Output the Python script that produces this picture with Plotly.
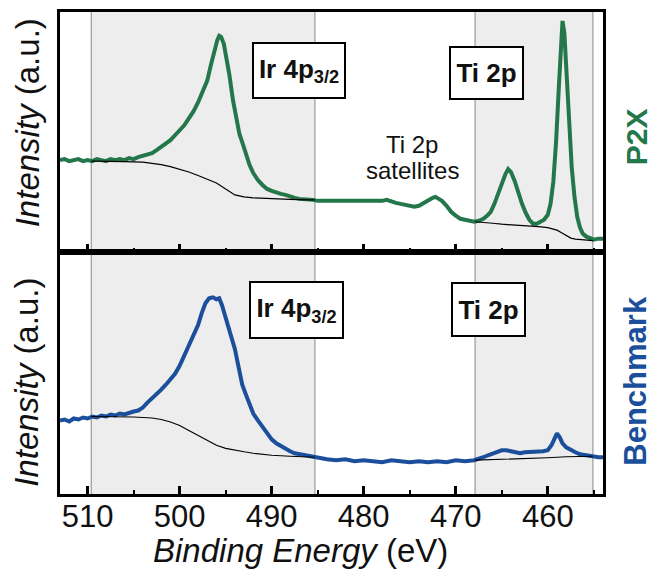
import plotly.graph_objects as go

# ---------------- XPS data (binding energy in eV, intensity in a.u.) ----------------
# P2X sample
be_p2x = [513.0, 512.5, 512.0, 511.5, 511.0, 510.5, 510.0, 509.5, 509.0, 508.5, 508.0, 507.5,
          507.0, 506.5, 506.0, 505.5, 505.0, 504.5, 504.0, 503.5, 503.0, 502.5, 502.0, 501.5,
          501.0, 500.5, 500.0, 499.5, 499.0, 498.5, 498.0, 497.5, 497.0, 496.6, 496.2, 495.9,
          495.7, 495.5, 495.2, 494.9, 494.6, 494.2, 493.8, 493.5, 493.2, 492.8, 492.4, 492.0,
          491.5, 491.0, 490.5, 490.0, 489.5, 489.0, 488.5, 488.0, 487.5, 487.0, 486.5, 486.0,
          485.5, 485.0, 484.0, 483.0, 482.0, 481.0, 480.0, 479.0, 478.0, 477.5, 477.0, 476.5,
          476.0, 475.5, 475.0, 474.5, 474.0, 473.5, 473.0, 472.5, 472.2, 471.8, 471.5, 471.0,
          470.5, 470.0, 469.5, 469.0, 468.5, 468.0, 467.5, 467.0, 466.6, 466.2, 465.8, 465.4,
          465.0, 464.6, 464.3, 464.0, 463.6, 463.2, 462.8, 462.4, 462.0, 461.6, 461.2, 460.8,
          460.4, 460.0, 459.7, 459.4, 459.1, 458.8, 458.6, 458.4, 458.2, 458.0, 457.8, 457.6,
          457.4, 457.1, 456.8, 456.5, 456.2, 455.8, 455.4, 455.0, 454.5, 454.0]
int_p2x = [92, 93, 91, 92, 93, 91, 92, 91, 93, 92, 91, 93,
           92, 93, 92, 94, 93, 95, 96, 97, 99, 102, 105, 108,
           112, 117, 122, 127, 134, 141, 150, 160, 172, 188, 203, 213,
           217, 216, 209, 195, 178, 152, 130, 118, 110, 97, 87, 79,
           72, 67, 63, 61, 59, 58, 57, 55, 54, 53, 53, 52,
           52, 51, 51, 50, 51, 50, 50, 51, 51, 52, 50, 49,
           48, 47, 46, 45, 46, 49, 52, 54, 55, 53, 51, 46,
           40, 36, 33, 32, 31, 30, 31, 33, 36, 40, 48, 58,
           69, 78, 83, 80, 71, 59, 48, 39, 32, 28, 28, 30,
           32, 37, 48, 70, 110, 165, 205, 232, 220, 185, 145, 115,
           85, 55, 35, 24, 18, 15, 13, 12, 13, 13]

# P2X Shirley backgrounds
be_p2x_bg_ir = [509.6, 508.0, 506.0, 504.0, 503.0, 502.0, 501.0, 500.0, 499.0, 498.0, 497.0,
                496.0, 495.0, 494.5, 494.0, 493.5, 493.0, 492.0, 491.0, 490.0, 488.0, 486.0, 485.3]
int_p2x_bg_ir = [91, 91, 90.5, 90, 89, 87.5, 85.5, 83, 80, 76.5, 73,
                 69, 63, 60, 57, 56, 55, 54, 53.5, 53, 52.5, 52, 52]
be_p2x_bg_ti = [467.9, 467.0, 466.0, 465.0, 464.0, 463.0, 462.0, 461.0, 460.0, 459.5, 459.0,
                458.5, 458.0, 457.5, 457.0, 456.0, 455.1]
int_p2x_bg_ti = [30, 29.5, 28.5, 27.5, 27, 26, 25.5, 25, 24, 23, 21.5,
                 19, 16, 13.5, 12.5, 11.5, 11]

# Benchmark sample
be_bm = [513.0, 512.5, 512.0, 511.5, 511.0, 510.5, 510.0, 509.5, 509.0, 508.5, 508.0, 507.5,
         507.0, 506.5, 506.0, 505.5, 505.0, 504.5, 504.0, 503.5, 503.0, 502.5, 502.0, 501.5,
         501.0, 500.5, 500.0, 499.5, 499.0, 498.5, 498.0, 497.6, 497.2, 496.8, 496.4, 496.0,
         495.7, 495.4, 495.1, 494.8, 494.4, 494.0, 493.6, 493.2, 492.8, 492.4, 492.0, 491.5,
         491.0, 490.5, 490.0, 489.5, 489.0, 488.5, 488.0, 487.5, 487.0, 486.5, 486.0, 485.5,
         485.0, 484.0, 483.0, 482.0, 481.0, 480.0, 479.0, 478.0, 477.0, 476.0, 475.0, 474.0,
         473.0, 472.0, 471.0, 470.0, 469.0, 468.0, 467.5, 467.0, 466.5, 466.0, 465.5, 465.0,
         464.5, 464.0, 463.5, 463.0, 462.5, 462.0, 461.5, 461.0, 460.5, 460.0, 459.6, 459.3,
         459.0, 458.7, 458.4, 458.0, 457.5, 457.0, 456.5, 456.0, 455.5, 455.0, 454.5, 454.0]
int_bm = [74, 75, 73, 76, 75, 77, 76, 78, 77, 79, 78, 80,
          79, 81, 80, 82, 83, 84, 87, 92, 96, 100, 105, 110,
          115, 121, 129, 139, 149, 160, 170, 182, 192, 197, 198, 196,
          197, 190, 180, 171, 158, 146, 128, 110, 100, 89, 81, 74,
          68, 62, 55, 51, 48, 45, 43, 41, 40, 39, 38, 37,
          36, 35, 34, 35, 33, 34, 33, 32, 34, 33, 32, 33,
          32, 33, 32, 34, 33, 34, 35, 37, 39, 41, 43, 44,
          44, 43, 42, 41, 42, 42, 43, 43, 43, 44, 49, 55,
          61, 57, 51, 47, 44, 42, 40, 39, 38, 38, 37, 37]

# Benchmark Shirley backgrounds
be_bm_bg_ir = [509.6, 507.0, 505.0, 503.0, 502.0, 501.0, 500.0, 499.0, 498.0, 497.0, 496.0,
               495.0, 494.0, 493.0, 492.0, 491.0, 490.0, 488.0, 485.3]
int_bm_bg_ir = [78, 78, 77.5, 76.5, 75, 72.5, 69, 64, 59, 54, 49,
                46, 44, 42.5, 41, 40, 39, 38, 37]
be_bm_bg_ti = [467.9, 466.0, 464.0, 462.0, 460.0, 458.0, 456.0, 455.1]
int_bm_bg_ti = [34, 34.5, 35, 35.5, 36.5, 37.5, 38, 38]

# Fitted regions (eV)
ir_region = [509.6, 485.3]
ti_region = [467.9, 455.1]

# Axis settings
x_range = [513.0, 454.0]
x_ticks = [510, 500, 490, 480, 470, 460]

GREEN = "#23774a"
BLUE = "#1b4f9b"
FONT = "Liberation Sans, Arial, sans-serif"

W, H = 652, 574
ML, MR, MT, MB = 60, 49, 9, 80
SPLIT = 0.503


def px(x, y):
    """Pixel position -> paper coordinates."""
    pw, ph = W - ML - MR, H - MT - MB
    return (x - ML) / pw, (H - MB - y) / ph


fig = go.Figure()

# Spectra (top: P2X on x2/y2, bottom: Benchmark on x/y), backgrounds drawn over them
fig.add_trace(go.Scatter(x=be_p2x, y=int_p2x, xaxis="x2", yaxis="y2",
                         mode="lines", line=dict(color=GREEN, width=4)))
fig.add_trace(go.Scatter(x=be_p2x_bg_ir, y=int_p2x_bg_ir, xaxis="x2", yaxis="y2",
                         mode="lines", line=dict(color="black", width=1.2)))
fig.add_trace(go.Scatter(x=be_p2x_bg_ti, y=int_p2x_bg_ti, xaxis="x2", yaxis="y2",
                         mode="lines", line=dict(color="black", width=1.2)))

fig.add_trace(go.Scatter(x=be_bm, y=int_bm, xaxis="x", yaxis="y",
                         mode="lines", line=dict(color=BLUE, width=4)))
fig.add_trace(go.Scatter(x=be_bm_bg_ir, y=int_bm_bg_ir, xaxis="x", yaxis="y",
                         mode="lines", line=dict(color="black", width=1.2)))
fig.add_trace(go.Scatter(x=be_bm_bg_ti, y=int_bm_bg_ti, xaxis="x", yaxis="y",
                         mode="lines", line=dict(color="black", width=1.2)))

# Shaded fit windows with grey boundary lines in both panels
shapes = []
for xr, yr in (("x", "y domain"), ("x2", "y2 domain")):
    for reg in (ir_region, ti_region):
        shapes.append(dict(type="rect", xref=xr, yref=yr, x0=reg[0], x1=reg[1], y0=0, y1=1,
                           fillcolor="#ededed", line=dict(width=0), layer="below"))
        for edge in reg:
            shapes.append(dict(type="line", xref=xr, yref=yr, x0=edge, x1=edge, y0=0, y1=1,
                               line=dict(color="#9a9a9a", width=1.2), layer="below"))

axis_common = dict(range=x_range, showline=True, mirror=True, linecolor="black", linewidth=3,
                   ticks="inside", ticklen=8, tickwidth=2.5, tickcolor="black",
                   tickvals=x_ticks, showgrid=False, zeroline=False,
                   minor=dict(dtick=5, tick0=0, ticks="inside", ticklen=4, tickwidth=2,
                              tickcolor="black", showgrid=False))
yaxis_common = dict(showline=True, mirror=True, linecolor="black", linewidth=3,
                    showticklabels=False, ticks="", showgrid=False, zeroline=False,
                    fixedrange=True)

fig.update_layout(
    width=W, height=H,
    margin=dict(l=ML, r=MR, t=MT, b=MB),
    paper_bgcolor="white", plot_bgcolor="white",
    showlegend=False,
    font=dict(family=FONT, color="#111111"),
    shapes=shapes,
    xaxis=dict(axis_common, anchor="y", domain=[0, 1], ticklabelstandoff=-7,
               tickfont=dict(size=31, family=FONT, color="#111111")),
    yaxis=dict(yaxis_common, domain=[0, SPLIT], range=[0, 244], anchor="x"),
    xaxis2=dict(axis_common, anchor="y2", domain=[0, 1], matches="x", showticklabels=False),
    yaxis2=dict(yaxis_common, domain=[SPLIT, 1], range=[0, 241], anchor="x2"),
)

annotations = []


def add_text(text, x, y, size, color="#111111", angle=0, box=None):
    ax, ay = px(x, y)
    a = dict(text=text, x=ax, y=ay, xref="paper", yref="paper", showarrow=False,
             xanchor="center", yanchor="middle", textangle=angle,
             font=dict(family=FONT, size=size, color=color))
    if box:
        a.update(bordercolor="black", borderwidth=2, borderpad=2, bgcolor="white",
                 width=box[0], height=box[1])
    annotations.append(a)


# Axis titles
add_text("<i>Intensity</i> (a.u.)", 27, 121, 33, angle=-90)
add_text("<i>Intensity</i> (a.u.)", 27, 382, 33, angle=-90)
add_text("<i>Binding Energy</i> (eV)", 300, 551, 33)

# Sample labels on the right
add_text("<b>P2X</b>", 636, 135, 30, color=GREEN, angle=-90)
add_text("<b>Benchmark</b>", 636, 380, 31, color=BLUE, angle=-90)

# Peak region labels
add_text("<b>Ir 4p<sub>3/2</sub></b>", 299, 67.5, 26, box=(86, 49))
add_text("<b>Ti 2p</b>", 486.5, 70, 26, box=(67, 46))
add_text("<b>Ir 4p<sub>3/2</sub></b>", 296.5, 309, 26, box=(87, 50))
add_text("<b>Ti 2p</b>", 488.5, 308.5, 26, box=(67, 47))
add_text("Ti 2p", 412, 142, 24)
add_text("satellites", 412, 168, 24)

fig.update_layout(annotations=annotations)

fig.write_html("out.html")
